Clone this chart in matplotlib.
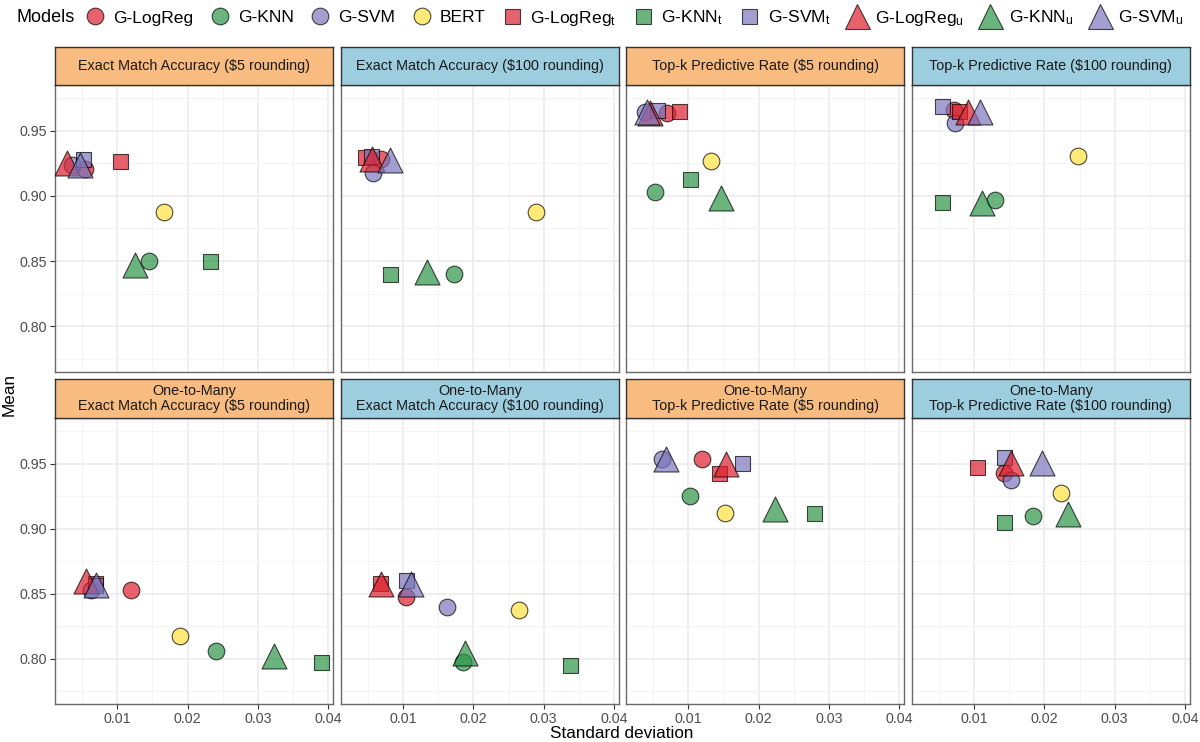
import matplotlib
matplotlib.use("Agg")
import matplotlib.pyplot as plt
from matplotlib.lines import Line2D
from matplotlib.ticker import FixedLocator

plt.rcParams['font.family'] = ['Liberation Sans', 'DejaVu Sans']
plt.rcParams['mathtext.fontset'] = 'custom'
plt.rcParams['mathtext.rm'] = 'Liberation Sans'
plt.rcParams['mathtext.it'] = 'Liberation Sans:italic'

# ---------------- data ----------------
panel_titles = [
    "Exact Match Accuracy ($5 rounding)",
    "Exact Match Accuracy ($100 rounding)",
    "Top-k Predictive Rate ($5 rounding)",
    "Top-k Predictive Rate ($100 rounding)",
    "One-to-Many\nExact Match Accuracy ($5 rounding)",
    "One-to-Many\nExact Match Accuracy ($100 rounding)",
    "One-to-Many\nTop-k Predictive Rate ($5 rounding)",
    "One-to-Many\nTop-k Predictive Rate ($100 rounding)",
]
strip_colors = ["#F8BB80", "#9DCEE0", "#F8BB80", "#9DCEE0",
                "#F8BB80", "#9DCEE0", "#F8BB80", "#9DCEE0"]

models = ["G-LogReg", "G-KNN", "G-SVM", "BERT",
          "G-LogReg_t", "G-KNN_t", "G-SVM_t",
          "G-LogReg_u", "G-KNN_u", "G-SVM_u"]
legend_labels = ["G-LogReg", "G-KNN", "G-SVM", "BERT",
                 r"G-LogReg$_\mathregular{t}$", r"G-KNN$_\mathregular{t}$", r"G-SVM$_\mathregular{t}$",
                 r"G-LogReg$_\mathregular{u}$", r"G-KNN$_\mathregular{u}$", r"G-SVM$_\mathregular{u}$"]

# standard deviation per panel (8 panels, row-major)
sd_glogreg   = [0.0054, 0.00685, 0.0070, 0.0072, 0.0120, 0.0104, 0.0119, 0.0142]
sd_gknn      = [0.01455, 0.0172, 0.0053, 0.0130, 0.0240, 0.0185, 0.0102, 0.0184]
sd_gsvm      = [0.0035, 0.00567, 0.0038, 0.0073, 0.0062, 0.0162, 0.0062, 0.0153]
sd_bert      = [0.01663, 0.02888, 0.01327, 0.0248, 0.0189, 0.0265, 0.0152, 0.0223]
sd_glogreg_t = [0.01038, 0.0046, 0.0087, 0.0079, 0.0069, 0.0068, 0.0143, 0.0104]
sd_gknn_t    = [0.02315, 0.0082, 0.01025, 0.0055, 0.0389, 0.0337, 0.0279, 0.0142]
sd_gsvm_t    = [0.0051, 0.0054, 0.0055, 0.0055, 0.0068, 0.0105, 0.0177, 0.0142]
sd_glogreg_u = [0.0028, 0.0056, 0.0046, 0.0092, 0.0055, 0.0069, 0.0154, 0.0152]
sd_gknn_u    = [0.0125, 0.01337, 0.0146, 0.0111, 0.0323, 0.0188, 0.0223, 0.0233]
sd_gsvm_u    = [0.0047, 0.0082, 0.0042, 0.0109, 0.0070, 0.0111, 0.0068, 0.0196]

# mean per panel
mean_glogreg   = [0.9206, 0.9280, 0.9638, 0.9659, 0.8530, 0.8473, 0.9533, 0.9426]
mean_gknn      = [0.8500, 0.8399, 0.9031, 0.8967, 0.8061, 0.7974, 0.9252, 0.9100]
mean_gsvm      = [0.9236, 0.9172, 0.9646, 0.9556, 0.8530, 0.8397, 0.9533, 0.9375]
mean_bert      = [0.8878, 0.8873, 0.9270, 0.9305, 0.8176, 0.8376, 0.9124, 0.9277]
mean_glogreg_t = [0.9270, 0.9295, 0.9654, 0.9654, 0.8580, 0.8580, 0.9426, 0.9472]
mean_gknn_t    = [0.8500, 0.8404, 0.9126, 0.8950, 0.7972, 0.7949, 0.9124, 0.9049]
mean_gsvm_t    = [0.9285, 0.9305, 0.9659, 0.9692, 0.8565, 0.8601, 0.9503, 0.9549]
mean_glogreg_u = [0.9250, 0.9285, 0.9635, 0.9645, 0.8595, 0.8575, 0.9500, 0.9505]
mean_gknn_u    = [0.8470, 0.8415, 0.8983, 0.8945, 0.8023, 0.8041, 0.9150, 0.9116]
mean_gsvm_u    = [0.9240, 0.9275, 0.9640, 0.9645, 0.8565, 0.8575, 0.9534, 0.9505]

x_ticks = [0.01, 0.02, 0.03, 0.04]
x_tick_labels = ["0.01", "0.02", "0.03", "0.04"]
y_ticks = [0.80, 0.85, 0.90, 0.95]
y_tick_labels = ["0.80", "0.85", "0.90", "0.95"]

sd_data = [sd_glogreg, sd_gknn, sd_gsvm, sd_bert, sd_glogreg_t, sd_gknn_t,
           sd_gsvm_t, sd_glogreg_u, sd_gknn_u, sd_gsvm_u]
mean_data = [mean_glogreg, mean_gknn, mean_gsvm, mean_bert, mean_glogreg_t,
             mean_gknn_t, mean_gsvm_t, mean_glogreg_u, mean_gknn_u, mean_gsvm_u]

# ---------------- styles ----------------
RED, GREEN, PURPLE, YELLOW = "#DE202E", "#2E9548", "#7C76BC", "#FFE041"
model_colors = [RED, GREEN, PURPLE, YELLOW, RED, GREEN, PURPLE, RED, GREEN, PURPLE]
model_markers = ["o", "o", "o", "o", "s", "s", "s", "^", "^", "^"]
marker_ms = {"o": 12.0, "s": 10.8, "^": 18.0}
ALPHA = 0.7

W, H = 1200, 742
fig = plt.figure(figsize=(W / 100, H / 100), dpi=100)

col_left = [55, 340.7, 626, 911.7]
pw = 278.3
rows = [dict(strip_top=47.3, plot_top=85.0, plot_h=287.0),
        dict(strip_top=379.3, plot_top=418.3, plot_h=285.7)]

XLIM = (0.00115, 0.0407)
YLIM = (0.765, 0.985)

for p in range(8):
    r, c = divmod(p, 4)
    rw = rows[r]
    L = col_left[c]
    ax = fig.add_axes([L / W, 1 - (rw["plot_top"] + rw["plot_h"]) / H, pw / W, rw["plot_h"] / H])
    ax.set_xlim(*XLIM)
    ax.set_ylim(*YLIM)
    ax.xaxis.set_major_locator(FixedLocator(x_ticks))
    ax.yaxis.set_major_locator(FixedLocator(y_ticks))
    ax.xaxis.set_minor_locator(FixedLocator([0.005, 0.015, 0.025, 0.035]))
    ax.yaxis.set_minor_locator(FixedLocator([0.775, 0.825, 0.875, 0.925, 0.975]))
    ax.grid(which="major", color="#EBEBEB", lw=1.1, zorder=0)
    ax.grid(which="minor", color="#F3F3F3", lw=0.6, zorder=0)
    ax.set_axisbelow(True)
    ax.tick_params(which="minor", length=0)
    ax.tick_params(which="major", length=3.5, width=0.8, color="#333333",
                   labelsize=10.3, labelcolor="#4D4D4D", pad=2.5)
    if r == 1:
        ax.set_xticklabels(x_tick_labels)
    else:
        ax.tick_params(axis="x", length=0, labelbottom=False)
    if c == 0:
        ax.set_yticklabels(y_tick_labels)
    else:
        ax.tick_params(axis="y", length=0, labelleft=False)
    for s in ax.spines.values():
        s.set_color("#6A6A6A")
        s.set_linewidth(1.0)

    for m in range(len(models)):
        mk = model_markers[m]
        ax.scatter([sd_data[m][p]], [mean_data[m][p]], marker=mk,
                   s=marker_ms[mk] ** 2, facecolor=model_colors[m],
                   edgecolor="black", linewidths=0.8, alpha=ALPHA, zorder=3)

    # strip
    st = rw["strip_top"]
    sh = rw["plot_top"] - st
    sax = fig.add_axes([L / W, 1 - rw["plot_top"] / H, pw / W, sh / H])
    sax.set_facecolor(strip_colors[p])
    sax.set_xticks([])
    sax.set_yticks([])
    for s in sax.spines.values():
        s.set_color("#333333")
        s.set_linewidth(1.0)
    sax.text(0.5, 0.5, panel_titles[p], ha="center", va="center",
             fontsize=10.4, color="#1A1A1A", transform=sax.transAxes,
             linespacing=1.12)

# axis titles
fig.text(622 / W, 1 - 733 / H, "Standard deviation", ha="center", va="center", fontsize=12.3, color="black")
fig.text(9 / W, 1 - 395 / H, "Mean", ha="center", va="center", rotation=90, fontsize=12.3, color="black")

# legend
handles = []
for m in range(len(models)):
    mk = model_markers[m]
    handles.append(Line2D([], [], linestyle="none", marker=mk, markersize=marker_ms[mk],
                          markerfacecolor=model_colors[m], markeredgecolor="black",
                          markeredgewidth=0.8, alpha=ALPHA))
fig.text(17 / W, 1 - 18 / H, "Models", ha="left", va="center", fontsize=13.0, color="black")
fig.legend(handles, legend_labels, loc="center left", bbox_to_anchor=(86 / W, 1 - 18 / H),
           ncol=10, frameon=False, fontsize=12.6, handlelength=1.0, handletextpad=0.55,
           columnspacing=1.0, borderpad=0, borderaxespad=0)

fig.savefig("out.png", dpi=100)
